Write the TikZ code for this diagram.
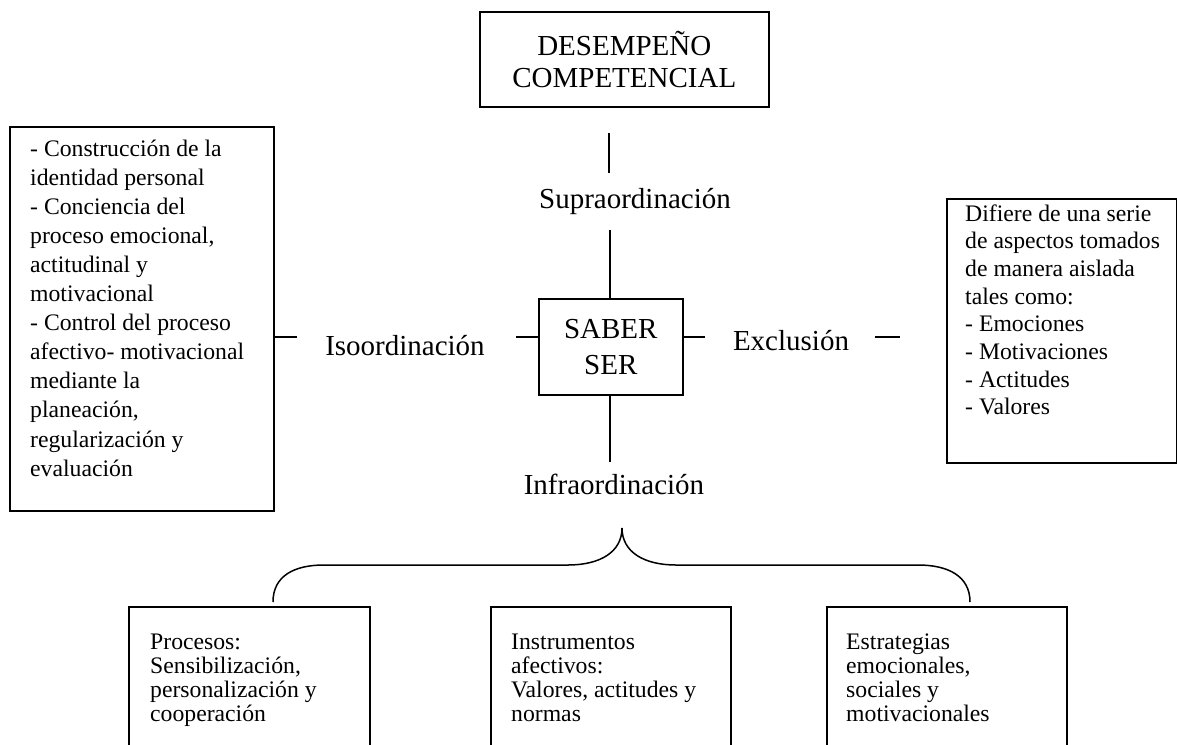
\documentclass[tikz,border=0pt]{standalone}
\usepackage{fontspec}
\setmainfont{Liberation Serif}
\begin{document}
\begin{tikzpicture}[x=1pt,y=-1pt,
  box/.style={draw, line width=1.6pt, inner sep=0pt, anchor=north west},
  big/.style={font=\fontsize{29}{36}\selectfont, inner sep=0pt},
  small/.style={inner sep=0pt, anchor=base west},
  link/.style={line width=1.5pt}]
\useasboundingbox (0,0) rectangle (1177,744);
% boxes
\node[box, minimum width=289, minimum height=95, align=center,
      font=\fontsize{29}{32}\selectfont] (top) at (479,11) {DESEMPEÑO\\COMPETENCIAL};
\node[box, minimum width=144, minimum height=96, align=center,
      font=\fontsize{29}{36}\selectfont] (saber) at (538,298) {SABER\\SER};
\node[box, minimum width=264, minimum height=384] (lbox) at (9,126) {};
\node[box, minimum width=230, minimum height=264] (rbox) at (946,198) {};
\node[box, minimum width=241, minimum height=160] (b1) at (128,606) {};
\node[box, minimum width=240, minimum height=160] (b2) at (490,606) {};
\node[box, minimum width=240, minimum height=160] (b3) at (826,606) {};
% box texts
\node[small] (lt) at (30,156) {\fontsize{23.7}{29.1}\selectfont\begin{tabular}[t]{@{}l@{}}
- Construcción de la\\ identidad personal\\ - Conciencia del\\ proceso emocional,\\
actitudinal y\\ motivacional\\ - Control del proceso\\ afectivo- motivacional\\
mediante la\\ planeación,\\ regularización y\\ evaluación\end{tabular}};
\node[small] (rt) at (965,221) {\fontsize{23.7}{27.7}\selectfont\begin{tabular}[t]{@{}l@{}}
Difiere de una serie\\ de aspectos tomados\\ de manera aislada\\ tales como:\\
- Emociones\\ - Motivaciones\\ - Actitudes\\ - Valores\end{tabular}};
\node[small] (t1) at (150,649) {\fontsize{23.7}{24.3}\selectfont\begin{tabular}[t]{@{}l@{}}
Procesos:\\ Sensibilización,\\ personalización y\\ cooperación\end{tabular}};
\node[small] (t2) at (511,649) {\fontsize{23.7}{24.3}\selectfont\begin{tabular}[t]{@{}l@{}}
Instrumentos\\ afectivos:\\ Valores, actitudes y\\ normas\end{tabular}};
\node[small] (t3) at (846,649) {\fontsize{23.7}{24.3}\selectfont\begin{tabular}[t]{@{}l@{}}
Estrategias\\ emocionales,\\ sociales y\\ motivacionales\end{tabular}};
% relation labels
\node[big, anchor=base] (supra) at (635,208) {Supraordinación};
\node[big, anchor=base] (iso) at (405,355) {Isoordinación};
\node[big, anchor=base] (excl) at (791,350) {Exclusión};
\node[big, anchor=base] (infra) at (614,494) {Infraordinación};
% connector stubs
\coordinate (v1a) at (609,133); \coordinate (v1b) at (609,173);
\coordinate (v2a) at (610,230);
\coordinate (v3b) at (610,462);
\coordinate (h1b) at (297,337);
\coordinate (h2a) at (516,337);
\coordinate (h3b) at (705,337);
\coordinate (h4a) at (875,337); \coordinate (h4b) at (900,337);
\draw[link] (v1a) -- (v1b);
\draw[link] (v2a) -- (saber.north -| v2a);
\draw[link] (saber.south -| v3b) -- (v3b);
\draw[link] (lbox.east |- h1b) -- (h1b);
\draw[link] (h2a) -- (saber.west |- h2a);
\draw[link] (saber.east |- h3b) -- (h3b);
\draw[link] (h4a) -- (h4b);
% brace
\coordinate (tip) at (622,528);
\coordinate (bl) at (273,602);
\coordinate (br) at (970,602);
\draw[link] (bl) .. controls (273,576) and (294,565) .. (324,565) -- (568,565)
  .. controls (600,565) and (622,552) .. (tip)
  .. controls (622,552) and (644,565) .. (676,565) -- (918,565)
  .. controls (948,565) and (970,576) .. (br);
\end{tikzpicture}
\end{document}
